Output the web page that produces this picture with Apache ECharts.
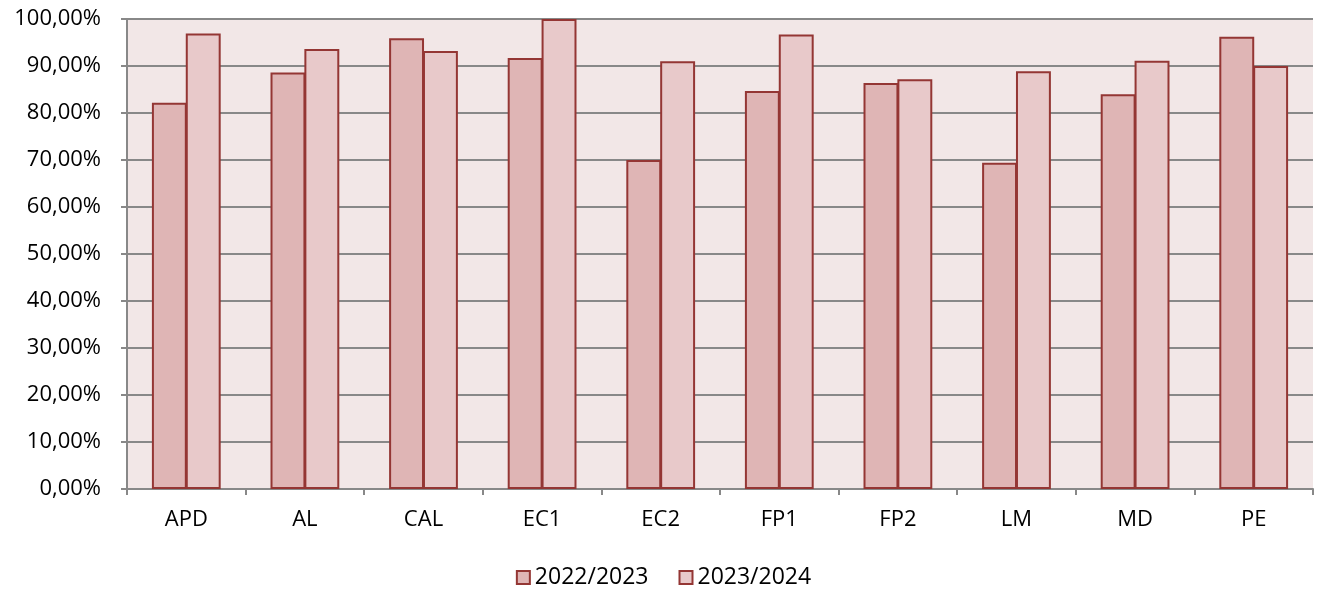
<!DOCTYPE html>
<html><head><meta charset="utf-8">
<script src="https://cdn.jsdelivr.net/npm/echarts@6/dist/echarts.min.js"></script>
<style>html,body{margin:0;padding:0;background:#fff}#c{width:1327px;height:594px}</style>
</head><body><div id="c"></div>
<script>
const categories = ["APD","AL","CAL","EC1","EC2","FP1","FP2","LM","MD","PE"];
const seriesNames = ["2022/2023","2023/2024"];
const values2022 = [82.2, 88.6, 95.9, 91.7, 70.0, 84.7, 86.4, 69.4, 84.0, 96.2];
const values2023 = [96.9, 93.6, 93.2, 100.0, 91.0, 96.7, 87.2, 88.9, 91.1, 90.0];
const yTicks = [0,10,20,30,40,50,60,70,80,90,100];

const font = "'Open Sans', 'Liberation Sans', sans-serif";
const chart = echarts.init(document.getElementById('c'), null, {renderer:'canvas'});
chart.setOption({
  animation:false,
  textStyle:{fontFamily:font},
  grid:{left:127, right:14, top:19, bottom:105, show:true, backgroundColor:'#F2E7E7', borderWidth:0},
  legend:{
    bottom:0, left:'center', itemWidth:13, itemHeight:13, itemGap:30,
    textStyle:{fontSize:23, color:'#000', fontFamily:font},
    data:seriesNames.map(n=>({name:n, icon:'rect'}))
  },
  xAxis:{
    type:'category', data:categories, boundaryGap:true,
    axisLine:{show:true, lineStyle:{color:'#888', width:2}},
    axisTick:{show:true, length:6, lineStyle:{color:'#888', width:2}},
    axisLabel:{fontSize:22, color:'#000', margin:20, fontFamily:font}
  },
  yAxis:{
    type:'value', min:0, max:100, interval:10,
    axisLine:{show:true, lineStyle:{color:'#888', width:2}},
    axisTick:{show:true, length:6, lineStyle:{color:'#888', width:2}},
    splitLine:{show:true, lineStyle:{color:'#888', width:2}},
    axisLabel:{fontSize:22, color:'#000', margin:26, fontFamily:font,
      formatter:v=>v.toFixed(2).replace('.',',')+'%'}
  },
  series:[
    {name:seriesNames[0], type:'bar', data:values2022, barGap:'-3%', barCategoryGap:'42%',
     itemStyle:{color:'#DFB5B5', borderColor:'#943634', borderWidth:2}},
    {name:seriesNames[1], type:'bar', data:values2023, barGap:'-3%', barCategoryGap:'42%',
     itemStyle:{color:'#E8C9CA', borderColor:'#943634', borderWidth:2}}
  ]
});
</script></body></html>
